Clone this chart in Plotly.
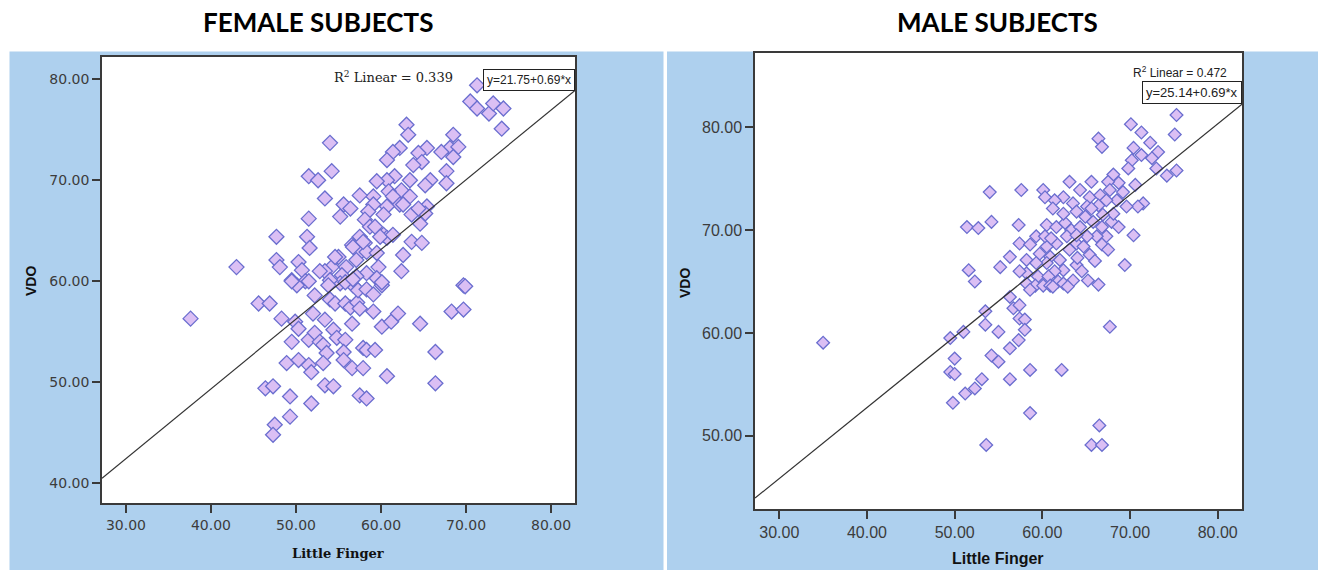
import plotly.graph_objects as go

W, H = 1318, 570

# ---------------- data ----------------
titles = ["FEMALE SUBJECTS", "MALE SUBJECTS"]
x_title = "Little Finger"
y_title = "VDO"
x_ticks = [30, 40, 50, 60, 70, 80]
female_y_ticks = [40, 50, 60, 70, 80]
male_y_ticks = [50, 60, 70, 80]

female_r2, female_intercept, female_slope = 0.339, 21.75, 0.69
male_r2, male_intercept, male_slope = 0.472, 25.14, 0.69

female_little_finger = [
    71.3, 70.5, 71.3, 72.7, 73.2, 74.4, 74.2,
    63.0, 63.2, 54.0,
    68.5, 68.1, 69.1, 68.5, 67.1,
    65.4, 64.4, 64.8, 63.8,
    62.2, 61.4, 60.7,
    67.7, 67.7, 65.8, 65.2, 63.4,
    62.4, 63.4, 62.2, 62.6, 65.4, 65.2, 64.6, 63.6, 64.4,
    61.6, 60.7, 59.5, 60.9, 61.4, 59.1, 57.5,
    60.7, 60.3, 59.1, 58.5, 58.1, 58.7, 59.3,
    60.3, 60.7, 59.9, 61.4, 57.5,
    55.6, 56.4, 55.2,
    54.2, 51.5, 52.6, 53.4, 51.5,
    47.7, 51.3, 51.6,
    43.0, 47.7, 48.1, 50.3, 50.7, 49.5, 51.1,
    55.0, 54.2, 53.4, 56.6, 57.5, 58.1, 58.3, 57.1, 55.9, 55.4,
    58.3, 59.7, 59.5, 60.1, 59.5, 62.6, 62.4, 63.6, 64.8, 69.7,
    52.8, 54.6, 56.7, 57.9, 57.1, 55.2, 54.0, 56.7,
    37.6,
    45.6, 46.9, 48.3, 49.9, 50.3, 49.5, 51.5, 52.2, 52.8, 53.2,
    52.0, 52.2, 53.4, 54.4, 54.8, 55.8, 53.6, 55.6, 55.6, 56.6, 57.9,
    48.9, 50.3, 51.5, 51.8, 53.2,
    46.4, 47.3, 49.3, 51.8, 49.3, 47.5, 47.3,
    53.4, 54.4, 57.5, 58.3, 60.7,
    57.9, 58.3, 59.3, 56.6, 60.1, 61.2, 62.0, 59.1, 64.6,
    66.4, 66.4, 68.3, 69.7, 69.9,
    54.0, 54.6, 55.8, 56.4, 57.2, 57.5, 57.3, 58.3, 59.1, 60.1, 55.8, 53.8, 56.7,
    50.1, 49.5, 51.5,
]
female_vdo = [
    79.4, 77.8, 77.1, 76.6, 77.6, 77.1, 75.1,
    75.5, 74.5, 73.7,
    74.5, 73.2, 73.3, 72.3, 72.8,
    73.2, 72.7, 71.8, 71.5,
    73.2, 72.8, 72.0,
    70.9, 69.7, 70.0, 69.5, 70.0,
    69.0, 68.4, 67.6, 67.6, 67.4, 66.7, 65.7, 66.6, 67.2,
    70.4, 70.0, 69.9, 68.9, 68.4, 68.4, 68.5,
    67.4, 66.6, 67.6, 66.9, 66.1, 65.4, 65.4,
    64.6, 64.3, 64.4, 64.6, 64.4,
    67.6, 67.2, 66.4,
    70.9, 70.4, 70.0, 68.2, 66.2,
    64.4, 64.4, 63.3,
    61.4, 62.1, 61.4, 61.9, 61.1, 60.1, 60.0,
    62.4, 61.4, 61.0, 63.6, 62.8, 63.8, 62.9, 62.1, 61.4, 60.6,
    60.8, 61.4, 60.3, 59.6, 62.8, 62.6, 61.0, 63.9, 63.8, 59.6,
    61.0, 62.4, 63.4, 63.9, 60.5, 59.8, 60.1, 59.6,
    56.3,
    57.8, 57.8, 56.3, 56.0, 55.3, 54.0, 54.2, 54.9, 54.0, 53.7,
    56.8, 58.6, 56.2, 55.2, 54.4, 54.2, 52.9, 53.0, 52.2, 51.4, 51.4,
    51.9, 52.2, 51.7, 51.0, 51.9,
    49.4, 49.6, 48.6, 47.9, 46.6, 45.8, 44.8,
    49.7, 49.6, 48.7, 48.4, 50.6,
    53.4, 53.2, 53.2, 55.8, 55.5, 56.0, 56.8, 57.0, 55.8,
    53.0, 49.9, 57.0, 57.2, 59.5,
    58.2, 57.8, 57.8, 57.4, 57.9, 57.3, 59.1, 59.2, 58.7, 59.9, 59.9, 59.6, 60.2,
    59.6, 60.0, 60.0,
]

male_little_finger = [
    75.3, 75.1, 75.3, 74.2, 70.1, 71.3, 72.3, 73.2, 70.4, 71.3, 72.5, 73.0, 70.2, 69.8, 66.4, 66.8, 70.6, 71.5, 70.9, 70.4, 69.4,
    68.1, 68.7, 67.5, 65.6, 63.1, 64.3, 65.4, 66.6, 67.7, 69.2, 68.5, 67.3, 66.4, 65.1, 63.5, 62.4, 61.4, 60.1, 60.3, 57.6, 54.0,
    51.4, 52.7, 54.2, 57.3, 51.6, 52.3, 55.2, 56.3, 58.2, 57.4, 58.6, 59.3, 60.5, 61.6, 62.6, 63.3, 64.3, 64.9, 63.9, 62.4, 61.2, 65.8, 66.8, 67.9, 68.7, 68.1, 66.9,
    67.3, 66.2, 65.1, 63.9, 62.8, 61.6, 60.5, 59.7, 60.9, 62.0, 63.1, 64.7, 66.8, 67.5, 65.4, 62.4, 61.4, 60.5, 59.3, 58.2, 59.5, 60.7, 61.8, 63.9, 64.5, 65.2, 66.4, 63.5, 58.2, 59.2,
    58.6, 60.1, 60.9, 62.4, 67.7, 56.3, 56.7, 57.4, 53.5, 57.4, 58.0, 58.0, 53.5, 55.0, 51.0, 49.5, 57.3, 56.3, 54.2, 55.0, 50.0, 49.5, 50.0, 53.1, 52.3, 51.2, 56.3, 58.6, 62.2, 49.8, 58.6, 53.6, 66.5, 65.6, 66.8, 35.0,
    65.6, 57.4, 61.2, 62.9, 60.3, 63.9, 69.6, 64.0, 61.0, 66.0,
]
male_vdo = [
    81.2, 79.3, 75.8, 75.3, 80.3, 79.5, 78.5, 77.6, 78.0, 77.3, 77.0, 76.0, 76.8, 76.0, 78.9, 78.1, 74.4, 72.6, 72.3, 69.5, 66.6,
    75.4, 74.6, 74.7, 74.7, 74.7, 73.9, 73.2, 73.4, 73.9, 73.7, 72.9, 72.9, 72.4, 72.3, 72.6, 73.2, 72.9, 73.9, 73.2, 73.9, 73.7,
    70.3, 70.2, 70.8, 70.5, 66.1, 65.0, 66.4, 67.4, 67.1, 68.7, 68.6, 69.4, 70.5, 70.3, 70.7, 70.0, 70.3, 71.3, 71.8, 71.6, 72.1, 70.8, 70.3, 70.8, 70.3, 71.6, 71.5,
    69.4, 69.4, 69.4, 68.7, 69.4, 68.7, 68.4, 67.7, 67.4, 67.1, 68.1, 68.4, 68.6, 68.1, 67.6, 66.1, 66.0, 66.8, 66.8, 65.8, 65.5, 65.5, 65.0, 66.6, 66.0, 65.1, 64.7, 65.1, 64.8, 64.6,
    64.2, 64.6, 64.6, 64.8, 60.6, 63.5, 62.4, 62.7, 62.1, 61.4, 61.3, 60.3, 60.8, 60.1, 60.1, 59.5, 59.3, 58.5, 57.8, 57.2, 57.5, 56.2, 56.0, 55.5, 54.6, 54.1, 55.5, 56.4, 56.4, 53.2, 52.2, 49.1, 51.0, 49.1, 49.1, 59.05,
    72.1, 66.0, 64.5, 64.5, 69.4, 69.5, 72.3, 67.3, 69.2, 67.0,
]

n_f = min(len(female_little_finger), len(female_vdo))
n_m = min(len(male_little_finger), len(male_vdo))

# ---------------- styling ----------------
BLUE = "#aed0ee"
FILL = "#dbbff4"
EDGE = "#6a6ecf"
AX = "#3a3a3a"


def fx(p):
    return p / W


def fy(p):
    return 1 - p / H


left_box = (102, 575, 57, 503)      # px: x0, x1, ytop, ybottom
right_box = (755, 1242, 52.7, 509)
left_xr = [27.18, 82.82]
left_yr = [38.05, 82.2]
right_xr = [27.23, 82.77]
right_yr = [42.87, 87.26]

fig = go.Figure()

fig.add_trace(go.Scatter(
    x=female_little_finger[:n_f], y=female_vdo[:n_f], mode="markers",
    marker=dict(symbol="diamond", size=11.5, color=FILL, line=dict(color=EDGE, width=1.3)),
    xaxis="x", yaxis="y", showlegend=False, hoverinfo="x+y"))
fig.add_trace(go.Scatter(
    x=left_xr, y=[female_intercept + female_slope * v for v in left_xr], mode="lines",
    line=dict(color="#333333", width=1.2), xaxis="x", yaxis="y", showlegend=False))

fig.add_trace(go.Scatter(
    x=male_little_finger[:n_m], y=male_vdo[:n_m], mode="markers",
    marker=dict(symbol="diamond", size=9.8, color=FILL, line=dict(color=EDGE, width=1.3)),
    xaxis="x2", yaxis="y2", showlegend=False, hoverinfo="x+y"))
fig.add_trace(go.Scatter(
    x=right_xr, y=[male_intercept + male_slope * v for v in right_xr], mode="lines",
    line=dict(color="#333333", width=1.2), xaxis="x2", yaxis="y2", showlegend=False))


def axis(domain, rng, ticks, anchor, font):
    return dict(domain=domain, range=rng, anchor=anchor, tickvals=ticks,
                tickformat=".2f", showline=True, linecolor=AX, linewidth=1.5,
                mirror=True, ticks="outside", ticklen=8, tickwidth=1.5,
                tickcolor=AX, showgrid=False, zeroline=False, tickfont=font,
                fixedrange=True)


left_font = dict(family="DejaVu Sans", size=14, color="#3c3c3c")
right_font = dict(family="Liberation Sans, Arial", size=16, color="#3c3c3c")

shapes = [
    dict(type="rect", xref="paper", yref="paper", x0=fx(9.5), x1=fx(663.5), y0=fy(570), y1=fy(51.5),
         fillcolor=BLUE, line=dict(width=0), layer="below"),
    dict(type="rect", xref="paper", yref="paper", x0=fx(667), x1=fx(1318), y0=fy(570), y1=fy(51.5),
         fillcolor=BLUE, line=dict(width=0), layer="below"),
    dict(type="rect", xref="paper", yref="paper", x0=fx(left_box[0]), x1=fx(left_box[1]),
         y0=fy(left_box[3]), y1=fy(left_box[2]), fillcolor="white", line=dict(width=0), layer="below"),
    dict(type="rect", xref="paper", yref="paper", x0=fx(right_box[0]), x1=fx(right_box[1]),
         y0=fy(right_box[3]), y1=fy(right_box[2]), fillcolor="white", line=dict(width=0), layer="below"),
]

annotations = [
    dict(text="<b>%s</b>" % titles[0], x=fx(318), y=fy(22), xref="paper", yref="paper",
         showarrow=False, xanchor="center", yanchor="middle",
         font=dict(family="Lato", size=26, color="black")),
    dict(text="<b>%s</b>" % titles[1], x=fx(997), y=fy(22), xref="paper", yref="paper",
         showarrow=False, xanchor="center", yanchor="middle",
         font=dict(family="Lato", size=26, color="black")),
    dict(text="<b>%s</b>" % y_title, x=fx(31), y=fy(281), xref="paper", yref="paper",
         showarrow=False, textangle=-90, xanchor="center", yanchor="middle",
         font=dict(family="Liberation Sans, Arial", size=14, color="#111")),
    dict(text="<b>%s</b>" % x_title, x=fx(338), y=fy(553), xref="paper", yref="paper",
         showarrow=False, xanchor="center", yanchor="middle",
         font=dict(family="DejaVu Serif", size=13, color="#111")),
    dict(text="<b>%s</b>" % y_title, x=fx(685), y=fy(283), xref="paper", yref="paper",
         showarrow=False, textangle=-90, xanchor="center", yanchor="middle",
         font=dict(family="Liberation Sans, Arial", size=14, color="#111")),
    dict(text="<b>%s</b>" % x_title, x=fx(998), y=fy(558), xref="paper", yref="paper",
         showarrow=False, xanchor="center", yanchor="middle",
         font=dict(family="Liberation Sans, Arial", size=16, color="#111")),
    dict(text="R<sup>2</sup> Linear = %.3f" % female_r2, x=fx(455), y=fy(77), xref="paper", yref="paper",
         showarrow=False, xanchor="right", yanchor="middle",
         font=dict(family="DejaVu Serif", size=13, color="#222")),
    dict(text="y=%.2f+%.2f*x" % (female_intercept, female_slope), x=fx(575), y=fy(69),
         xref="paper", yref="paper", showarrow=False, xanchor="right", yanchor="top",
         bordercolor="#222", borderwidth=1, borderpad=3, bgcolor="white",
         font=dict(family="Liberation Sans, Arial", size=12, color="#222")),
    dict(text="R<sup>2</sup> Linear = %.3f" % male_r2, x=fx(1229), y=fy(72), xref="paper", yref="paper",
         showarrow=False, xanchor="right", yanchor="middle",
         font=dict(family="Liberation Sans, Arial", size=12, color="#222")),
    dict(text="y=%.2f+%.2f*x" % (male_intercept, male_slope), x=fx(1242), y=fy(81),
         xref="paper", yref="paper", showarrow=False, xanchor="right", yanchor="top",
         bordercolor="#222", borderwidth=1, borderpad=3, bgcolor="white",
         font=dict(family="Liberation Sans, Arial", size=13, color="#222")),
]

fig.update_layout(
    width=W, height=H, autosize=False,
    margin=dict(l=0, r=0, t=0, b=0),
    paper_bgcolor="white", plot_bgcolor="rgba(0,0,0,0)",
    xaxis=axis([fx(left_box[0]), fx(left_box[1])], left_xr, x_ticks, "y", left_font),
    yaxis=axis([fy(left_box[3]), fy(left_box[2])], left_yr, female_y_ticks, "x", left_font),
    xaxis2=axis([fx(right_box[0]), fx(right_box[1])], right_xr, x_ticks, "y2", right_font),
    yaxis2=axis([fy(right_box[3]), fy(right_box[2])], right_yr, male_y_ticks, "x2", right_font),
    shapes=shapes, annotations=annotations, showlegend=False,
)

fig.write_html("out.html", config={"displayModeBar": False},
               post_script="document.body.style.margin='0px';document.body.style.overflow='hidden';")
